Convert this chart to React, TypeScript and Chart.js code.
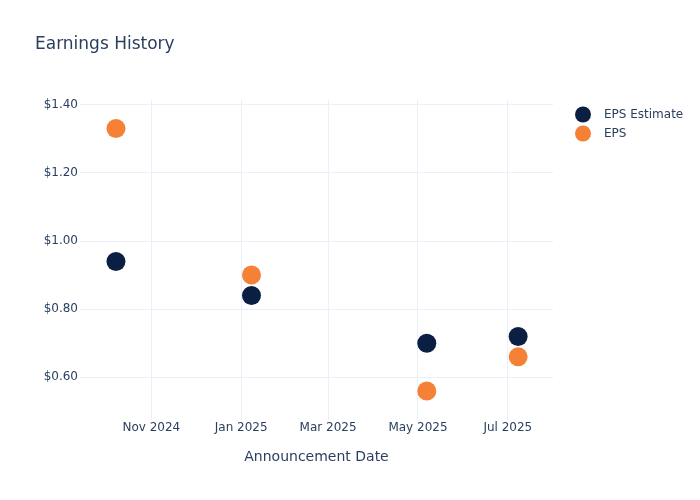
import React, { useEffect, useRef } from "react";
import { Chart, registerables } from "chart.js";

Chart.register(...registerables);

const announcementDates = ["2024-10-08", "2025-01-08", "2025-05-07", "2025-07-08"];
const epsEstimate = [0.94, 0.84, 0.70, 0.72];
const epsActual = [1.33, 0.90, 0.56, 0.66];
const xTickDates = ["2024-11-01", "2025-01-01", "2025-03-01", "2025-05-01", "2025-07-01"];
const xTickLabels = ["Nov 2024", "Jan 2025", "Mar 2025", "May 2025", "Jul 2025"];
const yTickValues = [0.6, 0.8, 1.0, 1.2, 1.4];
const xRange = ["2024-09-13T14:00:00Z", "2025-07-31T16:00:00Z"];
const yRange = [0.4747, 1.4138];

const seriesNames = ["EPS Estimate", "EPS"];
const seriesColors = ["#0b1f42", "#f58137"];

const FONT = "'DejaVu Sans', Verdana, sans-serif";
const TEXT = "#2a3f5f";
const GRID = "#ebf0f8";

const ts = (d: string) => new Date(d.length === 10 ? d + "T00:00:00Z" : d).getTime();

export default function App() {
  const ref = useRef<HTMLCanvasElement | null>(null);

  useEffect(() => {
    if (!ref.current) return;
    const tickTs = xTickDates.map(ts);

    const overlay = {
      id: "overlay",
      afterDraw(chart: any) {
        const ctx = chart.ctx;
        const ca = chart.chartArea;
        ctx.save();
        ctx.fillStyle = TEXT;
        ctx.textBaseline = "middle";
        ctx.textAlign = "left";
        ctx.font = `17px ${FONT}`;
        ctx.fillText("Earnings History", 35, 45);
        ctx.textAlign = "center";
        ctx.font = `14px ${FONT}`;
        ctx.fillText("Announcement Date", (ca.left + ca.right) / 2, 457);
        ctx.textAlign = "left";
        ctx.font = `12px ${FONT}`;
        seriesNames.forEach((name, i) => {
          const y = 114.5 + i * 19;
          ctx.beginPath();
          ctx.arc(583, y, 8, 0, Math.PI * 2);
          ctx.fillStyle = seriesColors[i];
          ctx.fill();
          ctx.fillStyle = TEXT;
          ctx.fillText(name, 604, y + 0.5);
        });
        ctx.restore();
      },
    };

    const chart = new Chart(ref.current, {
      type: "scatter",
      data: {
        datasets: [
          {
            label: seriesNames[0],
            data: announcementDates.map((d, i) => ({ x: ts(d), y: epsEstimate[i] })),
            backgroundColor: seriesColors[0],
            borderColor: seriesColors[0],
            pointRadius: 9.5,
            pointHoverRadius: 9.5,
            borderWidth: 0,
          },
          {
            label: seriesNames[1],
            data: announcementDates.map((d, i) => ({ x: ts(d), y: epsActual[i] })),
            backgroundColor: seriesColors[1],
            borderColor: seriesColors[1],
            pointRadius: 9.5,
            pointHoverRadius: 9.5,
            borderWidth: 0,
          },
        ],
      },
      options: {
        animation: false,
        responsive: false,
        layout: { padding: { left: 0, right: 147, top: 100, bottom: 0 } },
        plugins: { legend: { display: false }, tooltip: { enabled: false }, title: { display: false } },
        scales: {
          x: {
            type: "linear",
            min: ts(xRange[0]),
            max: ts(xRange[1]),
            afterBuildTicks: (s: any) => {
              s.ticks = tickTs.map((v) => ({ value: v }));
            },
            afterFit: (s: any) => {
              s.height = 80;
            },
            ticks: {
              autoSkip: false,
              maxRotation: 0,
              padding: 1,
              color: TEXT,
              font: { family: FONT, size: 12 },
              callback: (v: any) => {
                const idx = tickTs.indexOf(Number(v));
                return idx >= 0 ? xTickLabels[idx] : "";
              },
            },
            grid: { color: GRID, drawTicks: false, lineWidth: 1 },
            border: { display: false },
          },
          y: {
            min: yRange[0],
            max: yRange[1],
            afterBuildTicks: (s: any) => {
              s.ticks = yTickValues.map((v) => ({ value: v }));
            },
            afterFit: (s: any) => {
              s.width = 80;
            },
            ticks: {
              padding: 2,
              color: TEXT,
              font: { family: FONT, size: 12 },
              callback: (v: any) => "$" + Number(v).toFixed(2),
            },
            grid: { color: GRID, drawTicks: false, lineWidth: 1 },
            border: { display: false },
          },
        },
      },
      plugins: [overlay],
    } as any);
    return () => chart.destroy();
  }, []);

  return (
    <div style={{ position: "fixed", left: 0, top: 0, width: 700, height: 500, background: "#fff" }}>
      <canvas ref={ref} width={700} height={500} style={{ width: 700, height: 500 }} />
    </div>
  );
}
